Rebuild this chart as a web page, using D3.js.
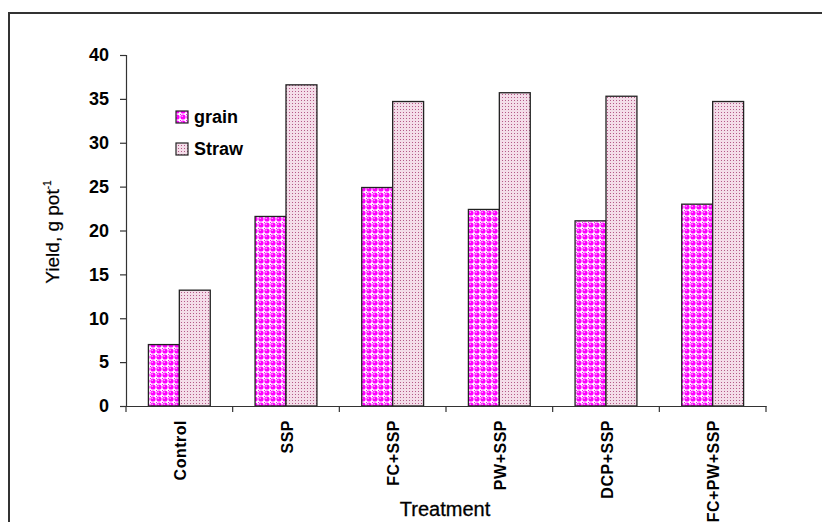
<!DOCTYPE html>
<html><head><meta charset="utf-8">
<script src="https://cdn.jsdelivr.net/npm/d3@7"></script>
<style>body{margin:0;background:#fff}svg{display:block}text{font-family:"Liberation Sans",Arial,sans-serif}</style>
</head><body>
<svg id="c" width="822" height="522"></svg>
<script>
const categories = ["Control","SSP","FC+SSP","PW+SSP","DCP+SSP","FC+PW+SSP"];
const seriesNames = ["grain","Straw"];
const grain = [7.0, 21.6, 24.9, 22.4, 21.1, 23.0];
const straw = [13.2, 36.6, 34.7, 35.7, 35.3, 34.7];
const yTicks = [0,5,10,15,20,25,30,35,40];

const svg = d3.select("#c");
const defs = svg.append("defs");
// grain pattern: magenta spheres on white
const pg = defs.append("pattern").attr("id","pGrain").attr("patternUnits","userSpaceOnUse")
  .attr("width",6).attr("height",6);
pg.append("rect").attr("width",6).attr("height",6).attr("fill","#ffffff");
pg.append("circle").attr("cx",3).attr("cy",3).attr("r",2.6).attr("fill","#ff00ff");
pg.append("rect").attr("x",0).attr("y",0).attr("width",1).attr("height",1).attr("fill","#ff00ff");
pg.append("circle").attr("cx",2.2).attr("cy",2.2).attr("r",0.7).attr("fill","#ffd0ff");
// straw pattern: fine pink dots
const ps = defs.append("pattern").attr("id","pStraw").attr("patternUnits","userSpaceOnUse")
  .attr("width",3).attr("height",3);
ps.append("rect").attr("width",3).attr("height",3).attr("fill","#f4dde9");
ps.append("rect").attr("x",1).attr("y",1).attr("width",1).attr("height",1).attr("fill","#b45a88");

// outer frame (extends past right and bottom)
svg.append("rect").attr("x",9).attr("y",13).attr("width",900).attr("height",600)
  .attr("fill","none").attr("stroke","#333").attr("stroke-width",2);

const y = d3.scaleLinear().domain([0,40]).range([406,55]);
const x0 = d3.scaleBand().domain(categories).range([126,766]).padding(0);
const bw = x0.bandwidth();
const x1 = d3.scaleBand().domain(seriesNames).range([bw*0.21, bw*0.79]).padding(0);
const fills = {grain:"url(#pGrain)", Straw:"url(#pStraw)"};
const values = {grain:grain, Straw:straw};

// bars
const g = svg.append("g");
categories.forEach((c,i)=>{
  seriesNames.forEach(s=>{
    const v = values[s][i];
    g.append("rect")
      .attr("x", x0(c)+x1(s)).attr("y", y(v))
      .attr("width", x1.bandwidth()).attr("height", y(0)-y(v))
      .attr("fill", fills[s]).attr("stroke","#222").attr("stroke-width",1.3);
  });
});

// y axis
const ya = svg.append("g").attr("transform","translate(126,0)")
  .call(d3.axisLeft(y).tickValues(yTicks).tickSize(6).tickPadding(11));
ya.select(".domain").attr("stroke","#333").attr("stroke-width",1.2);
ya.selectAll(".tick line").attr("stroke","#333").attr("stroke-width",1.2);
ya.selectAll(".tick text").attr("font-size","18px").attr("font-weight","bold")
  .attr("fill","#000").attr("font-family","Liberation Sans, Arial, sans-serif");

// x axis
const xa = svg.append("g").attr("transform","translate(0,406)")
  .call(d3.axisBottom(x0).tickSize(0).tickFormat(""));
xa.select(".domain").attr("stroke","#333").attr("stroke-width",1.2);
const bounds = categories.map(c=>x0(c)).concat([x0.range()[1]]);
xa.selectAll(".bnd").data(bounds).join("line").attr("class","bnd")
  .attr("x1",d=>d).attr("x2",d=>d).attr("y1",0).attr("y2",6)
  .attr("stroke","#333").attr("stroke-width",1.2);
svg.append("g").selectAll("text").data(categories).join("text")
  .attr("transform", d=>`translate(${x0(d)+bw/2+1},420) rotate(-90)`)
  .attr("text-anchor","end").attr("dy","0.35em")
  .attr("font-size","16px").attr("font-weight","bold").attr("letter-spacing","0.5px")
  .attr("fill","#000")
  .text(d=>d);

// axis titles
svg.append("text").attr("x",445).attr("y",516).attr("text-anchor","middle")
  .attr("font-size","20px").attr("fill","#000").attr("stroke","#000").attr("stroke-width",0.3)
  .text("Treatment");
const yt = svg.append("text").attr("transform","translate(59,232) rotate(-90)")
  .attr("text-anchor","middle").attr("font-size","19px").attr("fill","#000")
  .attr("stroke","#000").attr("stroke-width",0.2);
yt.append("tspan").text("Yield, g pot");
yt.append("tspan").attr("font-size","10px").attr("dy","-8").text("-1");

// legend
const leg = svg.append("g");
seriesNames.forEach((s,i)=>{
  const yy = 111 + i*32;
  leg.append("rect").attr("x",176).attr("y",yy).attr("width",12).attr("height",12)
    .attr("fill",fills[s]).attr("stroke","#222").attr("stroke-width",1.2);
  leg.append("text").attr("x",194).attr("y",yy+12).attr("font-size","18px")
    .attr("font-weight","bold").attr("fill","#000").text(s);
});
</script>
</body></html>
